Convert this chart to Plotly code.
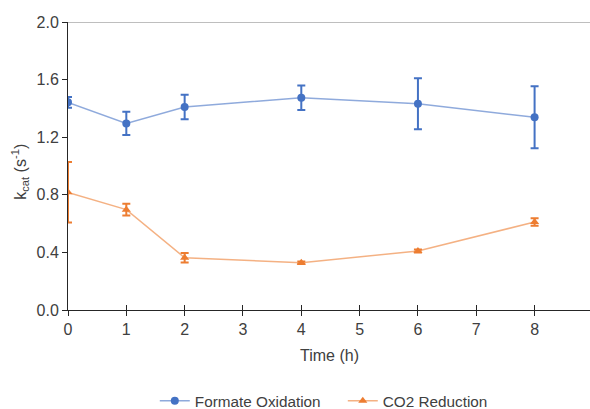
import plotly.graph_objects as go

time_h = [0, 1, 2, 4, 6, 8]
formate_kcat = [1.442, 1.296, 1.41, 1.474, 1.433, 1.338]
formate_err = [0.038, 0.08, 0.085, 0.085, 0.177, 0.215]
co2_kcat = [0.817, 0.697, 0.363, 0.328, 0.41, 0.611]
co2_err = [0.21, 0.04, 0.033, 0.008, 0.01, 0.026]
x_ticks = [0, 1, 2, 3, 4, 5, 6, 7, 8]
y_ticks = [0.0, 0.4, 0.8, 1.2, 1.6, 2.0]

FONT = "Liberation Sans, Arial, sans-serif"
TXT = "#404040"
BLUE = "#4472C4"
ORANGE = "#ED7D31"

fig = go.Figure()
fig.add_trace(go.Scatter(
    x=time_h, y=formate_kcat, name="Formate Oxidation", mode="lines+markers",
    line=dict(color="rgba(68,114,196,0.6)", width=1.5),
    marker=dict(symbol="circle", size=8, color=BLUE),
    error_y=dict(type="data", array=formate_err, visible=True, color=BLUE, thickness=2, width=4),
))
fig.add_trace(go.Scatter(
    x=time_h, y=co2_kcat, name="CO2 Reduction", mode="lines+markers",
    line=dict(color="rgba(237,125,49,0.6)", width=1.5),
    marker=dict(symbol="triangle-up", size=8, color=ORANGE),
    error_y=dict(type="data", array=co2_err, visible=True, color=ORANGE, thickness=2, width=4),
))
# invisible trace for the overlay axis (inner half of cross ticks)
fig.add_trace(go.Scatter(x=[0], y=[0], xaxis="x2", mode="markers",
                         marker=dict(opacity=0), showlegend=False, hoverinfo="skip"))

xr = [0, 8.95]
fig.update_layout(
    width=590, height=409,
    margin=dict(l=68, r=0, t=22, b=99, autoexpand=False),
    paper_bgcolor="white", plot_bgcolor="white",
    font=dict(family=FONT, size=16, color=TXT),
    showlegend=True,
    legend=dict(orientation="h", xref="container", x=0.581, xanchor="center", yref="container",
                y=0.02, yanchor="middle", font=dict(size=15.3, color=TXT),
                itemwidth=30, entrywidth=143, entrywidthmode="pixels"),
    xaxis=dict(range=xr, tickvals=x_ticks, ticktext=[str(t) for t in x_ticks], automargin=False,
               showgrid=False, zeroline=False, showline=True, linecolor="#262626", linewidth=1,
               ticks="outside", ticklen=5, tickcolor="#262626", tickfont=dict(size=16, color=TXT)),
    xaxis2=dict(range=xr, overlaying="x", tickvals=x_ticks, showticklabels=False, automargin=False,
                showgrid=False, zeroline=False, showline=False,
                ticks="inside", ticklen=5, tickcolor="#262626", side="bottom"),
    yaxis=dict(range=[0, 2.0], tickvals=y_ticks, ticktext=["%.1f" % v for v in y_ticks], automargin=False,
               showgrid=False, zeroline=False, showline=True, linecolor="#262626", linewidth=1,
               ticks="outside", ticklen=5, tickcolor="#262626", tickfont=dict(size=16, color=TXT)),
    shapes=[dict(type="line", xref="paper", yref="y", x0=0, x1=1, y0=2.0, y1=2.0,
                 line=dict(color="#7f7f7f", width=1))],
    annotations=[
        dict(text="k<sub>cat</sub> (s<sup>-1</sup>)", xref="paper", yref="paper", x=0, y=0.48,
             xanchor="center", yanchor="middle", xshift=-48, textangle=-90, showarrow=False,
             font=dict(size=16, color=TXT)),
        dict(text="Time (h)", xref="paper", yref="paper", x=0.5, y=0, xanchor="center",
             yanchor="middle", yshift=-45, showarrow=False, font=dict(size=16, color=TXT)),
    ],
)
fig.write_html("out.html", config={"displayModeBar": False},
               post_script="document.body.style.margin='0';document.body.style.overflow='hidden';")
